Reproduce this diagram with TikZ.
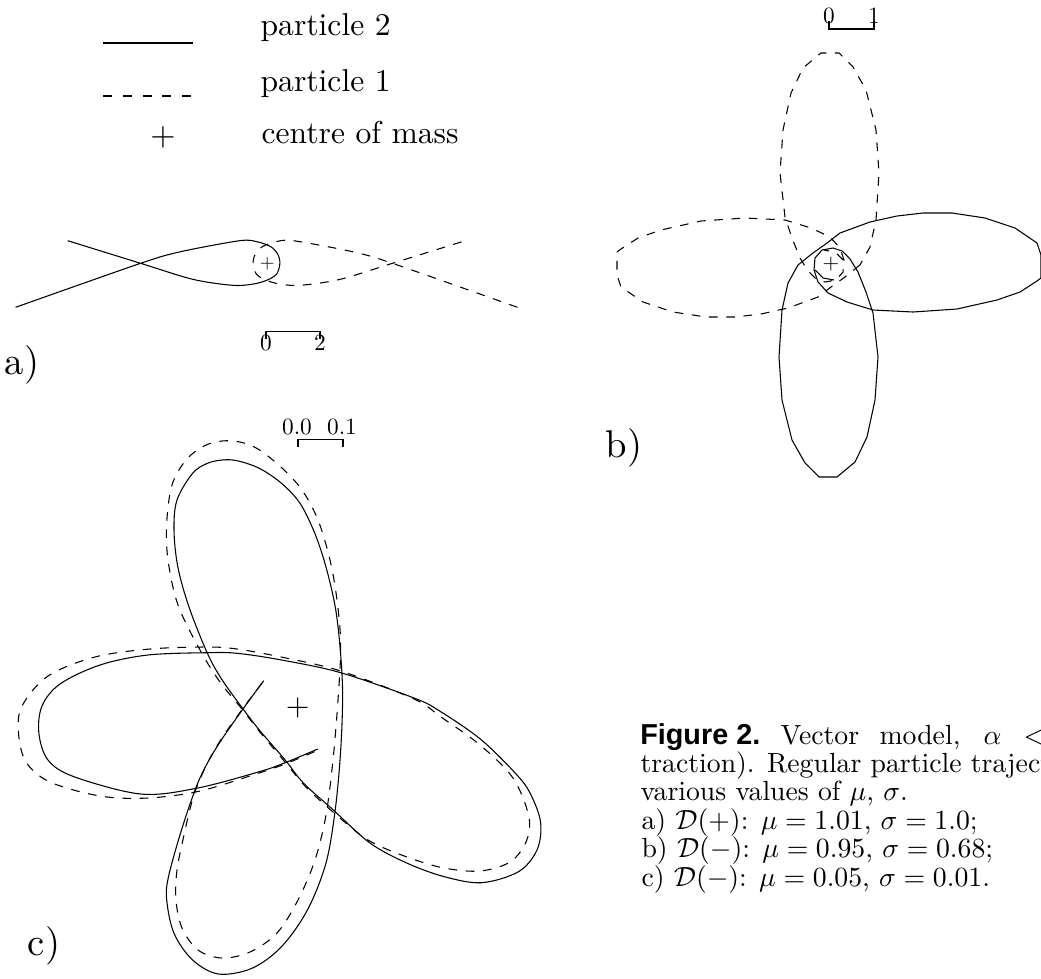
\documentclass[tikz,border=0pt]{standalone}
\usepackage{fontspec}
\newfontfamily\capsans{Liberation Sans}
\tikzset{
  traj/.style={line width=0.8pt, line join=round},
  dsh/.style={traj, dash pattern=on 6.5pt off 6.5pt},
  legtext/.style={scale=2.37, inner sep=0pt, anchor=base west, font=\normalsize},
  captext/.style={scale=2.08, inner sep=0pt, anchor=base west, font=\normalsize},
  panellab/.style={scale=2.9, inner sep=0pt, font=\normalsize},
  scaletext/.style={scale=1.75, inner sep=0pt, font=\normalsize},
  cmark/.style={inner sep=0pt, font=\normalsize},
  bar/.style={line width=0.8pt},
}
\begin{document}
\begin{tikzpicture}[x=0.75pt,y=-0.75pt]
\useasboundingbox (0,0) rectangle (1041,978);
\clip (0,0) rectangle (1041,978);

% ---------------- legend ----------------
\coordinate (l1a) at (103,43); \coordinate (l1b) at (193,43);
\coordinate (l2a) at (103,96); \coordinate (l2b) at (193,96);
\draw[traj] (l1a) -- (l1b);
\draw[traj, dash pattern=on 6.75pt off 8.1pt] (l2a) -- (l2b);
\node[cmark, scale=2.44] (lplus) at (163,137) {$+$};
\node[legtext] (lt2) at (260,36) {particle 2};
\node[legtext] (lt1) at (260,91) {particle 1};
\node[legtext] (ltc) at (261,143) {centre of mass};

% ---------------- panel a ----------------
\def\trajA{plot[smooth, tension=0.5] coordinates {(15.6,307.3) (140.6,263.3) (180.6,251.7) (239.6,240.7) (256.9,241.7) (270.8,246.7) (277.8,254.3) (279.9,263.3) (276.7,274) (267.4,280) (253.5,284) (232.6,285.3) (192.7,279.3) (140.6,263.3) (67.7,240.7)}}
\draw[traj] \trajA;
\begin{scope}[shift={(533,0)}, xscale=-1]
  \draw[dsh] \trajA;
\end{scope}
\node[cmark, scale=1.43] (aplus) at (267.4,263.3) {$+$};
\coordinate (ab0) at (266,331.7); \coordinate (ab1) at (320,331.7);
\draw[bar] ([yshift=-7.4*0.75pt]ab0) -- (ab0) -- (ab1) -- ([yshift=-7.4*0.75pt]ab1);
\node[scaletext] (a0) at (266,343) {0};
\node[scaletext] (a2) at (320,343) {2};
\node[panellab] (alab) at (22,365) {a)};

% ---------------- panel b ----------------
\def\trajB{(798,265) -- (813,253) -- (827,243) -- (840,233) -- (870,222) -- (897,216) -- (923,213) -- (952,213) -- (985,218) -- (1015,228) -- (1037,243) -- (1041,255) -- (1041,278) -- (1037,281) -- (1020,292) -- (997,300) -- (957,309) -- (913,312) -- (873,310) -- (847,302) -- (828,293) -- (818,282) -- (814,270) -- (815,258) -- (822,250) -- (833,248) -- (842,251) -- (850,259) -- (858,272) -- (866,292) -- (873,313) -- (878,357) -- (875,400) -- (867,437) -- (855,462) -- (837,477) -- (819,477) -- (805,463) -- (792,440) -- (782,400) -- (779,357) -- (782,310) -- (788,283) -- cycle
  (815,270) -- (823,278) -- (834,280)}
\draw[traj] \trajB;
\begin{scope}[rotate around={180:(829,265)}]
  \draw[dsh] \trajB;
\end{scope}
\node[cmark, scale=1.6] (bplus) at (831,264.5) {$+$};
\coordinate (bb0) at (829,29); \coordinate (bb1) at (874,29);
\draw[bar] ([yshift=8*0.75pt]bb0) -- (bb0) -- (bb1) -- ([yshift=8*0.75pt]bb1);
\node[scaletext] (b0) at (829,16) {0};
\node[scaletext] (b1) at (874,16) {1};
\node[panellab] (blab) at (624,448) {b)};

% ---------------- panel c ----------------
\draw[traj] plot[smooth, tension=0.55] coordinates {(263.7,680.7) (242.6,709.5) (222,739) (208,762) (196.3,786.7) (181.5,830) (168.5,876.7) (166.7,900) (174,933.3) (192.6,960) (218.5,974) (251.9,968.3) (281.5,946.7) (307.4,910) (325.9,863.3) (335.2,810) (340.7,750) (342.6,693.3) (340,646.7) (335.2,606.7) (325.9,566.7) (314.8,533.3) (300,503.3) (281.5,483.3) (259.3,468.3) (237,460.7) (222.2,460) (207.4,463.3) (192.6,473.3) (177,500) (174,530) (177.8,566.7) (188.9,606.7) (207.4,653.3) (222.2,680) (242.6,708.3) (259.3,730) (285.2,760) (303.7,783.3) (333.3,810) (370.4,843.3) (407.4,863.3) (444.4,876.7) (481.5,882.7) (518.5,871.7) (537,850) (540.7,823.3) (532,797) (518.5,776.7) (481.5,740) (440.7,711.7) (414.8,698.3) (340.7,672.7) (281.5,660) (237,653.3) (207,652.7) (148,655) (100,665) (60,684) (42,706) (38.9,733.3) (48,760) (74,776.7) (140.7,794) (196.3,788.3) (259.3,771.7) (285.2,762.7) (317.8,749)};
\draw[dsh] plot[smooth, tension=0.55] coordinates {(262,683) (241,711) (220,741) (205,768) (193,798) (184,835) (177,870) (176,900) (182,928) (198,950) (222,958) (250,952) (277,933) (298,900) (315,860) (326,815) (333,760) (338,700) (340.7,645) (337,600) (330,560) (318,520) (302,490) (282,468) (258,449) (240,442) (222,441) (204,446) (186,460) (172,485) (166.7,523) (168,560) (178,605) (200,650) (220,682) (242,709) (259,731) (285,762) (305,786) (333,812) (368,840) (407,857) (444,868) (480,871) (510,862) (526,842) (528.9,816.7) (513,778) (480,745) (441,717) (414,699) (340.7,671) (281,657) (237,649) (207,647) (150,649) (95,657) (48,676) (22,706) (18.5,733) (26,762) (50,782) (100,796) (148,798) (200,791) (259,773) (285,764) (316,751)};
\node[cmark, scale=2.28] (cplus) at (297.7,708.3) {$+$};
\coordinate (cb0) at (298,439.3); \coordinate (cb1) at (343,439.3);
\draw[bar] ([yshift=-7.4*0.75pt]cb0) -- (cb0) -- (cb1) -- ([yshift=-7.4*0.75pt]cb1);
\node[scaletext] (c00) at (297,426.5) {0.0};
\node[scaletext] (c01) at (342,426.5) {0.1};
\node[panellab] (clab) at (44,946) {c)};

% ---------------- caption ----------------
\node[inner sep=0pt, anchor=base west, font=\capsans\bfseries\fontsize{21.6}{24}\selectfont] (fig) at (640,744) {Figure 2.};
\node[captext] (w1) at (780,744) {Vector};
\node[captext] (w2) at (879,744) {model,};
\node[captext] (w3) at (983,744) {$\alpha$};
\node[captext] (w4) at (1023,744) {$<$};
\node[captext] (l2) at (640,772.4) {traction). Regular particle traject};
\node[captext] (l3) at (640,800.8) {various values of $\mu$, $\sigma$.};
\node[captext] (l4) at (641,829.2) {a) $\mathcal{D}(+)$: $\mu=1.01$, $\sigma=1.0$;};
\node[captext] (l5) at (641,857.6) {b) $\mathcal{D}(-)$: $\mu=0.95$, $\sigma=0.68$;};
\node[captext] (l6) at (641,886) {c) $\mathcal{D}(-)$: $\mu=0.05$, $\sigma=0.01$.};
\end{tikzpicture}
\end{document}
